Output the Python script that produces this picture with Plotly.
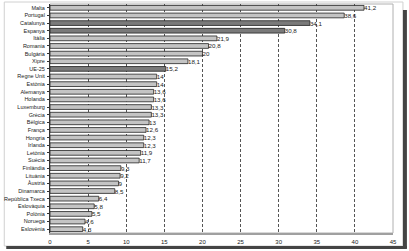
import plotly.graph_objects as go

categories = ["Malta", "Portugal", "Catalunya", "Espanya", "Itàlia", "Romania", "Bulgària",
              "Xipre", "UE-25", "Regne Unit", "Estònia", "Alemanya", "Holanda", "Luxemburg",
              "Grècia", "Bèlgica", "França", "Hongria", "Irlanda", "Letònia", "Suècia",
              "Finlàndia", "Lituània", "Àustria", "Dinamarca", "República Txeca", "Eslovàquia",
              "Polònia", "Noruega", "Eslovènia"]
values = [41.2, 38.6, 34.1, 30.8, 21.9, 20.8, 20, 18.1, 15.2, 14, 14, 13.6, 13.6, 13.3,
          13.3, 13, 12.6, 12.3, 12.3, 11.9, 11.7, 9.3, 9.2, 9, 8.5, 6.4, 5.8, 5.5, 4.6, 4.3]
highlight = ["Catalunya", "Espanya", "UE-25"]
x_ticks = [0, 5, 10, 15, 20, 25, 30, 35, 40, 45]

colors = ["#7a7a7a" if c in highlight else "#c4c4c4" for c in categories]
labels = [("%g" % v).replace(".", ",") for v in values]

fig = go.Figure(go.Bar(
    x=values, y=categories, orientation="h",
    marker=dict(color=colors, line=dict(color="#222222", width=0.8)),
    width=0.62,
    text=labels, textposition="outside", cliponaxis=False,
    textfont=dict(size=6.2, color="#222222", family="Liberation Sans"),
    constraintext="none",
))

fig.update_layout(
    width=409, height=251,
    margin=dict(l=48, r=16, t=4, b=18),
    paper_bgcolor="white", plot_bgcolor="white",
    showlegend=False,
    font=dict(family="Liberation Sans", size=5.5, color="#222222"),
    xaxis=dict(range=[0, 45], tickvals=x_ticks, showgrid=True, gridcolor="#555555",
               griddash="3px,2px", gridwidth=0.8, zeroline=False, showline=True,
               linecolor="#a0a0a0", linewidth=2, ticks="", tickfont=dict(size=6),
               ticklabelstandoff=2, fixedrange=True),
    yaxis=dict(categoryorder="array", categoryarray=categories, range=[29.5, -0.5],
               showline=True, linecolor="#333333", linewidth=1, ticks="outside",
               ticklen=2, tickcolor="#333333", showgrid=False, tickfont=dict(size=5.5),
               ticklabelstandoff=1),
    shapes=[
        dict(type="rect", xref="paper", yref="paper", x0=0, x1=1, y0=0, y1=1,
             line=dict(color="#b0b0b0", width=1), layer="below"),
        dict(type="rect", xref="paper", yref="paper", x0=-46/345, x1=1 + 10/345,
             y0=-13/229, y1=1 + 2/229, line=dict(color="#d0d0d0", width=1), layer="below"),
        dict(type="rect", xref="paper", yref="paper", x0=1 + 10/345, x1=1 + 14/345,
             y0=-15/229, y1=1 - 6/229, fillcolor="#444444", line=dict(width=0), layer="below"),
        dict(type="rect", xref="paper", yref="paper", x0=-44/345, x1=1 + 14/345,
             y0=-16/229, y1=-13/229, fillcolor="#444444", line=dict(width=0), layer="below"),
    ],
)

fig.write_html("out.html")
